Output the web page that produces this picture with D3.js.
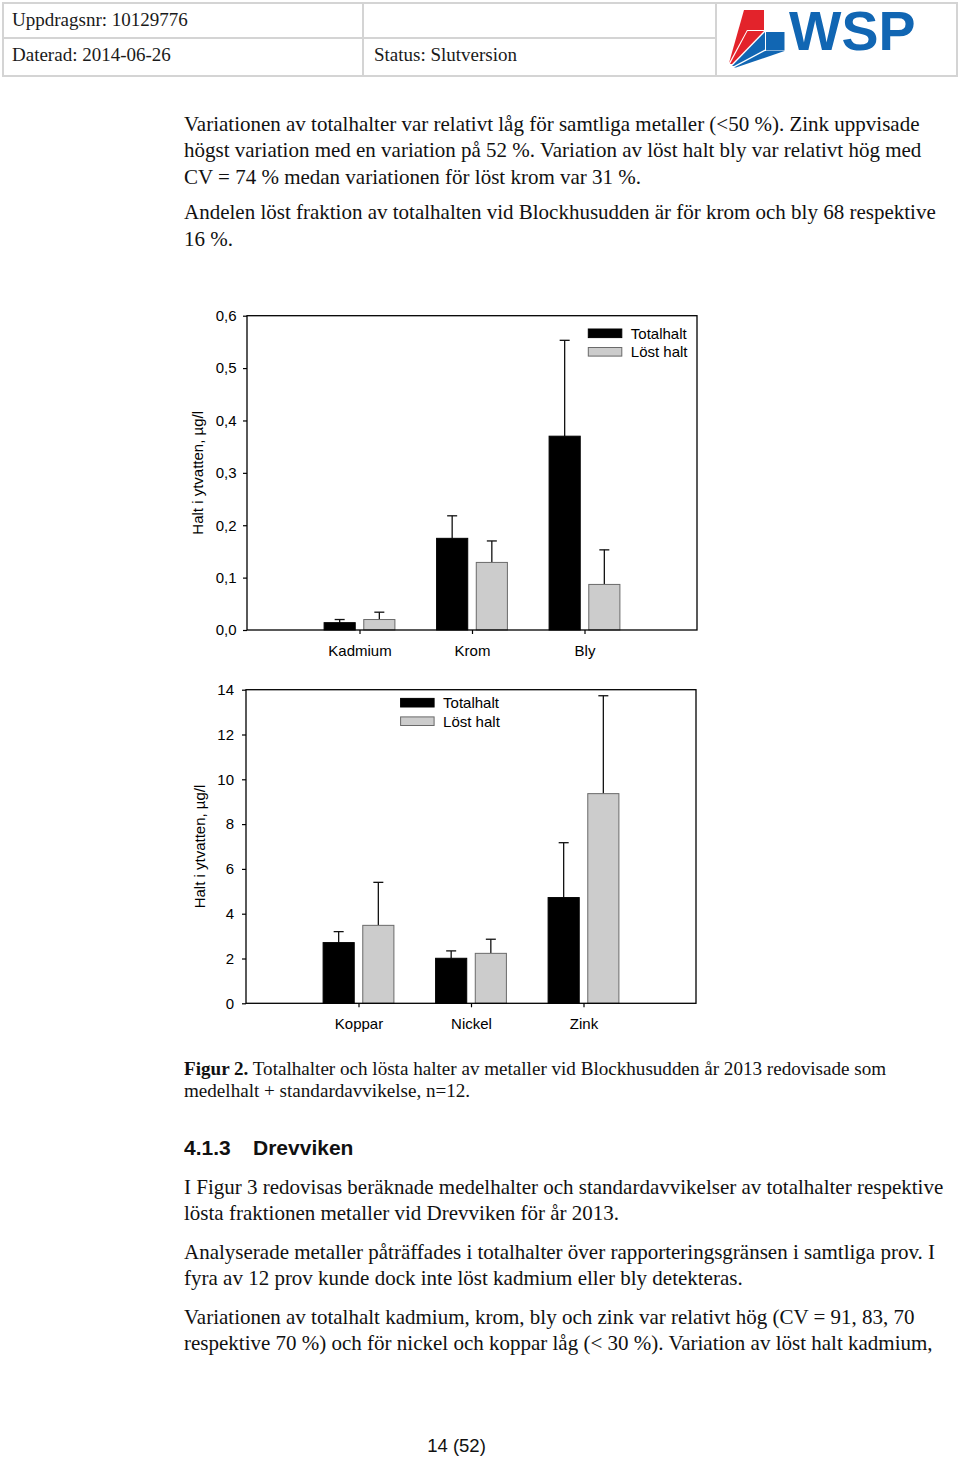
<!DOCTYPE html>
<html>
<head>
<meta charset="utf-8">
<script src="https://cdn.jsdelivr.net/npm/d3@7"></script>
<style>
  html, body { margin: 0; padding: 0; background: #fff; }
  svg { display: block; }
</style>
</head>
<body>
<div id="page"></div>
<script>
// ---------- Chart data ----------
const seriesNames = ["Totalhalt", "Löst halt"];

const categoriesTop = ["Kadmium", "Krom", "Bly"];
const totalTop = [0.014, 0.175, 0.370];
const totalSdTop = [0.006, 0.043, 0.183];
const dissolvedTop = [0.020, 0.129, 0.087];
const dissolvedSdTop = [0.014, 0.041, 0.066];
const ticksTop = [0, 0.1, 0.2, 0.3, 0.4, 0.5, 0.6];

const categoriesBottom = ["Koppar", "Nickel", "Zink"];
const totalBottom = [2.71, 2.01, 4.72];
const totalSdBottom = [0.49, 0.33, 2.45];
const dissolvedBottom = [3.48, 2.23, 9.36];
const dissolvedSdBottom = [1.92, 0.63, 4.37];
const ticksBottom = [0, 2, 4, 6, 8, 10, 12, 14];

const yAxisLabel = "Halt i ytvatten, µg/l";

// ---------- Page text ----------
const headerCells = [
  { text: "Uppdragsnr: 10129776", x: 12, y: 26 },
  { text: "Daterad: 2014-06-26", x: 12, y: 61 },
  { text: "Status: Slutversion", x: 374, y: 61 }
];
const paraTop = [
  { t: "Variationen av totalhalter var relativt låg för samtliga metaller (<50 %). Zink uppvisade", y: 131 },
  { t: "högst variation med en variation på 52 %. Variation av löst halt bly var relativt hög med", y: 157 },
  { t: "CV = 74 % medan variationen för löst krom var 31 %.", y: 184 },
  { t: "Andelen löst fraktion av totalhalten vid Blockhusudden är för krom och bly 68 respektive", y: 219 },
  { t: "16 %.", y: 246 }
];
const paraBottom = [
  { t: "I Figur 3 redovisas beräknade medelhalter och standardavvikelser av totalhalter respektive", y: 1194 },
  { t: "lösta fraktionen metaller vid Drevviken för år 2013.", y: 1220 },
  { t: "Analyserade metaller påträffades i totalhalter över rapporteringsgränsen i samtliga prov. I", y: 1259 },
  { t: "fyra av 12 prov kunde dock inte löst kadmium eller bly detekteras.", y: 1285 },
  { t: "Variationen av totalhalt kadmium, krom, bly och zink var relativt hög (CV = 91, 83, 70", y: 1324 },
  { t: "respektive 70 %) och för nickel och koppar låg (< 30 %). Variation av löst halt kadmium,", y: 1350 }
];

const W = 960, H = 1458;
const serif = "'Liberation Serif', 'Times New Roman', serif";
const sans = "'Liberation Sans', Arial, sans-serif";

const svg = d3.select("#page").append("svg")
  .attr("width", W).attr("height", H)
  .attr("viewBox", `0 0 ${W} ${H}`);

svg.append("rect").attr("width", W).attr("height", H).attr("fill", "#fff");

// ---------- Header table ----------
const hdr = svg.append("g").attr("stroke", "#d4d4d4").attr("stroke-width", 2).attr("fill", "none");
hdr.append("rect").attr("x", 3).attr("y", 3).attr("width", 954).attr("height", 73);
hdr.append("line").attr("x1", 3).attr("x2", 716).attr("y1", 38).attr("y2", 38);
hdr.append("line").attr("x1", 363).attr("x2", 363).attr("y1", 3).attr("y2", 76);
hdr.append("line").attr("x1", 716).attr("x2", 716).attr("y1", 3).attr("y2", 76);

svg.append("g").selectAll("text").data(headerCells).join("text")
  .attr("x", d => d.x).attr("y", d => d.y)
  .attr("font-family", serif).attr("font-size", 19).attr("fill", "#1a1a1a")
  .text(d => d.text);

// ---------- WSP logo ----------
const logo = svg.append("g");
const red = "#e3232b", blue = "#1166b3";
logo.append("rect").attr("x", 747).attr("y", 10).attr("width", 17).attr("height", 20).attr("fill", red);
logo.append("polygon").attr("points", "744,10 747,10 747,30 729,63").attr("fill", red);
logo.append("polygon").attr("points", "747.5,31 764,31 732,64 730,64").attr("fill", red);
logo.append("rect").attr("x", 766).attr("y", 32).attr("width", 18.5).attr("height", 18.5).attr("fill", blue);
logo.append("polygon").attr("points", "765,32 765,49.5 734,66 732,66").attr("fill", blue);
logo.append("polygon").attr("points", "765,51 784.5,51 736,67.5 734,67.5").attr("fill", blue);
logo.append("text").attr("x", 789).attr("y", 50)
  .attr("font-family", sans).attr("font-weight", "bold").attr("font-size", 55.5)
  .attr("fill", blue).text("WSP");

// ---------- Body paragraphs ----------
function paragraph(lines, size) {
  svg.append("g").selectAll("text").data(lines).join("text")
    .attr("x", 184).attr("y", d => d.y)
    .attr("font-family", serif).attr("font-size", size).attr("fill", "#111")
    .text(d => d.t);
}
paragraph(paraTop, 21);
paragraph(paraBottom, 21);

// Caption
const cap = svg.append("g").attr("font-family", serif).attr("font-size", 19.1).attr("fill", "#111");
const c1 = cap.append("text").attr("x", 184).attr("y", 1075);
c1.append("tspan").attr("font-weight", "bold").text("Figur 2.");
c1.append("tspan").text(" Totalhalter och lösta halter av metaller vid Blockhusudden år 2013 redovisade som");
cap.append("text").attr("x", 184).attr("y", 1097).text("medelhalt + standardavvikelse, n=12.");

// Heading
const hd = svg.append("g").attr("font-family", sans).attr("font-weight", "bold").attr("font-size", 21).attr("fill", "#111");
hd.append("text").attr("x", 184).attr("y", 1155).text("4.1.3");
hd.append("text").attr("x", 253).attr("y", 1155).text("Drevviken");

// Footer
svg.append("text").attr("x", 456.5).attr("y", 1452).attr("text-anchor", "middle")
  .attr("font-family", sans).attr("font-size", 18.5).attr("fill", "#111").text("14 (52)");

// ---------- Charts ----------
function drawChart(cfg) {
  const g = svg.append("g").attr("font-family", sans);
  const x = d3.scalePoint().domain(cfg.cats).range([cfg.left, cfg.right]).padding(1);
  const xs = d3.scaleBand().domain(seriesNames).range([-35.9, 35.9]).paddingInner(0.19);
  const y = d3.scaleLinear().domain([0, cfg.max]).range([cfg.bottom, cfg.top]);

  const rows = [];
  cfg.cats.forEach((c, i) => {
    rows.push({ cat: c, s: seriesNames[0], v: cfg.total[i], sd: cfg.totalSd[i] });
    rows.push({ cat: c, s: seriesNames[1], v: cfg.dissolved[i], sd: cfg.dissolvedSd[i] });
  });
  const fill = d => d.s === seriesNames[0] ? "#000" : "#cccccc";
  const stroke = d => d.s === seriesNames[0] ? "#000" : "#6a6a6a";
  const cx = d => x(d.cat) + xs(d.s) + xs.bandwidth() / 2;

  // error bars (behind bars)
  const eb = g.append("g").attr("stroke", "#111").attr("stroke-width", 1.3);
  eb.selectAll("line.v").data(rows).join("line").attr("class", "v")
    .attr("x1", cx).attr("x2", cx)
    .attr("y1", d => y(d.v)).attr("y2", d => y(d.v + d.sd));
  eb.selectAll("line.c").data(rows).join("line").attr("class", "c")
    .attr("x1", d => cx(d) - 5).attr("x2", d => cx(d) + 5)
    .attr("y1", d => y(d.v + d.sd)).attr("y2", d => y(d.v + d.sd));

  g.append("g").selectAll("rect").data(rows).join("rect")
    .attr("x", d => x(d.cat) + xs(d.s) + 0.5)
    .attr("width", xs.bandwidth() - 1)
    .attr("y", d => y(d.v))
    .attr("height", d => y(0) - y(d.v))
    .attr("fill", fill).attr("stroke", stroke).attr("stroke-width", 1);

  // frame
  g.append("rect").attr("x", cfg.left).attr("y", cfg.top)
    .attr("width", cfg.right - cfg.left).attr("height", cfg.bottom - cfg.top)
    .attr("fill", "none").attr("stroke", "#000").attr("stroke-width", 1.3);

  // y axis
  const ya = g.append("g").attr("transform", `translate(${cfg.left},0)`)
    .call(d3.axisLeft(y).tickValues(cfg.ticks).tickSize(4).tickPadding(cfg.yPad).tickFormat(cfg.fmt));
  ya.select(".domain").remove();
  ya.selectAll("text").attr("font-size", 15).attr("font-family", sans).attr("fill", "#000");
  ya.selectAll("line").attr("stroke", "#000").attr("stroke-width", 1.2);

  // x axis
  const xa = g.append("g").attr("transform", `translate(0,${cfg.bottom})`)
    .call(d3.axisBottom(x).tickSize(4).tickPadding(11));
  xa.select(".domain").remove();
  xa.selectAll("text").attr("font-size", 15).attr("font-family", sans).attr("fill", "#000");
  xa.selectAll("line").attr("stroke", "#000").attr("stroke-width", 1.2);

  // y label
  g.append("text")
    .attr("transform", `translate(${cfg.labelX},${(cfg.top + cfg.bottom) / 2}) rotate(-90)`)
    .attr("text-anchor", "middle").attr("dominant-baseline", "central")
    .attr("font-size", 15).attr("fill", "#000").text(yAxisLabel);

  // legend
  const lg = g.append("g");
  seriesNames.forEach((s, i) => {
    const sy = cfg.legY + i * 18.5;
    lg.append("rect").attr("x", cfg.legX).attr("y", sy - 4.3).attr("width", 33.5).attr("height", 8.6)
      .attr("fill", i === 0 ? "#000" : "#cccccc").attr("stroke", i === 0 ? "#000" : "#6a6a6a");
    lg.append("text").attr("x", cfg.legX + 42.5).attr("y", sy).attr("dominant-baseline", "central")
      .attr("font-size", 15).attr("fill", "#000").text(s);
  });
}

const commaFmt = d => d3.format(".1f")(d).replace(".", ",");

drawChart({
  cats: categoriesTop, total: totalTop, totalSd: totalSdTop,
  dissolved: dissolvedTop, dissolvedSd: dissolvedSdTop,
  ticks: ticksTop, fmt: commaFmt, max: 0.6,
  left: 247, right: 697, top: 315.7, bottom: 630,
  yPad: 6.5, labelX: 197.4, legX: 588.3, legY: 333.3
});

drawChart({
  cats: categoriesBottom, total: totalBottom, totalSd: totalSdBottom,
  dissolved: dissolvedBottom, dissolvedSd: dissolvedSdBottom,
  ticks: ticksBottom, fmt: d3.format("d"), max: 14,
  left: 246, right: 696, top: 689.7, bottom: 1003.3,
  yPad: 8, labelX: 199, legX: 400.6, legY: 702.7
});
</script>
</body>
</html>
